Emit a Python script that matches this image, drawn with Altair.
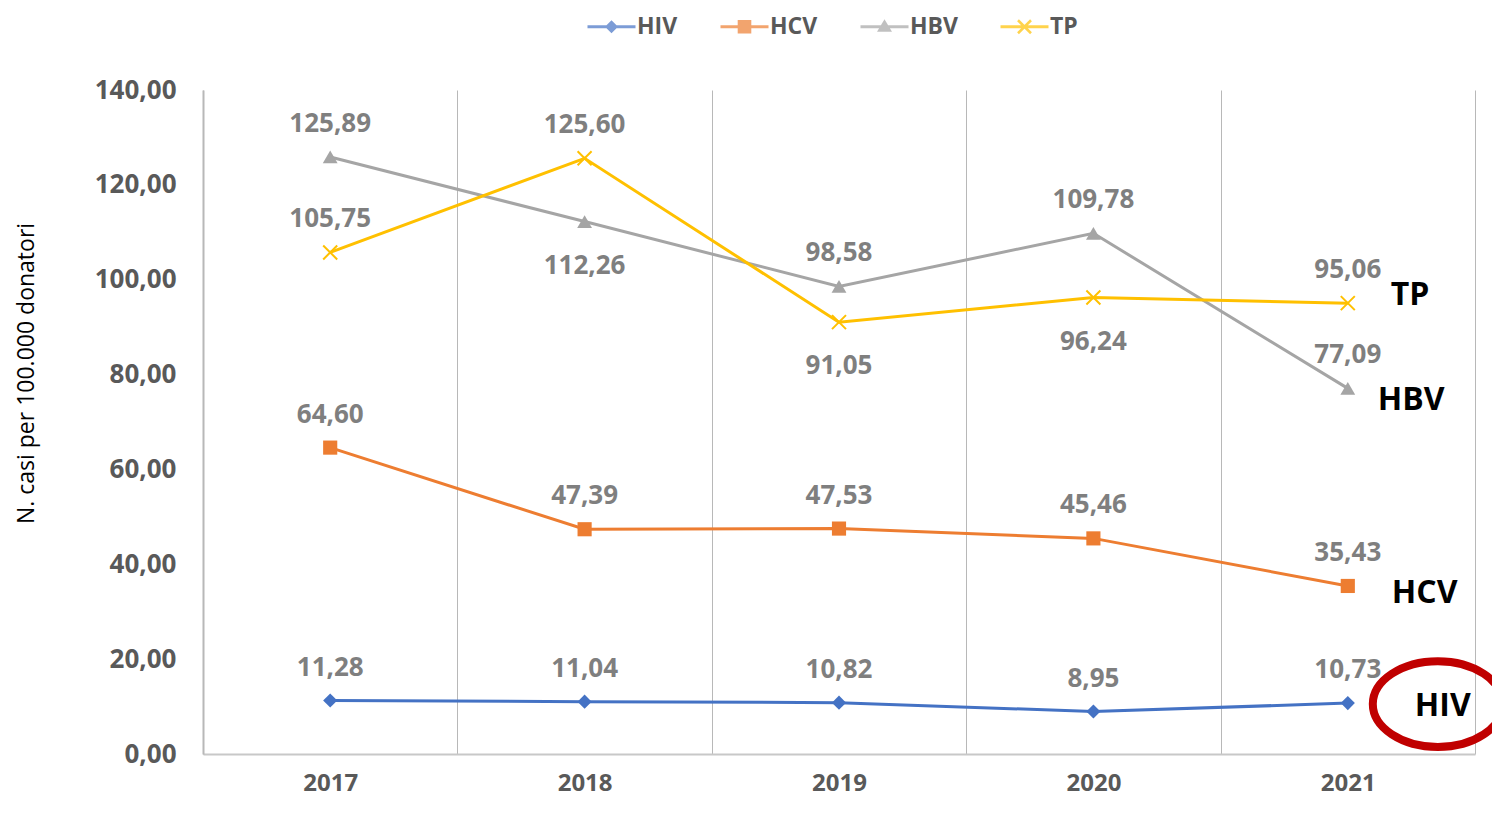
import altair as alt
import pandas as pd

# ---- data ----
years = ["2017", "2018", "2019", "2020", "2021"]
series = ["HIV", "HCV", "HBV", "TP"]
hiv = [11.28, 11.04, 10.82, 8.95, 10.73]
hcv = [64.60, 47.39, 47.53, 45.46, 35.43]
hbv = [125.89, 112.26, 98.58, 109.78, 77.09]
tp = [105.75, 125.60, 91.05, 96.24, 95.06]
y_ticks = [0, 20, 40, 60, 80, 100, 120, 140]
y_title = "N. casi per 100.000 donatori"
# labels placed under their point in the reference
labels_below = {("HBV", "2018"), ("TP", "2019"), ("TP", "2020")}

values = {"HIV": hiv, "HCV": hcv, "HBV": hbv, "TP": tp}
rows = []
for s in series:
    for yr, v in zip(years, values[s]):
        rows.append({"Serie": s, "Anno": yr, "Valore": v,
                     "Sotto": (s, yr) in labels_below})
df = pd.DataFrame(rows)

# ---- styles ----
FONT = "Open Sans"
colors = {"HIV": "#4472C4", "HCV": "#ED7D31", "HBV": "#A5A5A5", "TP": "#FFC000"}
marker = {
    "HIV": dict(shape="diamond", filled=True, size=200),
    "HCV": dict(shape="square", filled=True, size=200),
    "HBV": dict(shape="triangle-up", filled=True, size=220),
    "TP": dict(shape="M-1,-1L1,1M-1,1L1,-1", filled=False, size=196, strokeWidth=2),
}
# legend symbols: line with marker (unit = 10 px, symbol box 20 px)
LINE = "M-2.4,-0.15H2.4V0.15H-2.4Z"
legend_paths = [
    LINE + "M0,-0.65L0.65,0L0,0.65L-0.65,0Z",
    LINE + "M-0.68,-0.68H0.68V0.68H-0.68Z",
    LINE + "M0,-0.75L0.75,0.5L-0.75,0.5Z",
    LINE + "M-0.56,-0.74L0.74,0.56L0.56,0.74L-0.74,-0.56Z"
           "M-0.56,0.74L-0.74,0.56L0.56,-0.74L0.74,-0.56Z",
]
annot = {  # dx, dy of the bold series names right of 2021
    "TP": (43, -8), "HBV": (30, 12), "HCV": (44, 7), "HIV": (67, 3),
}
GRID = "#b8b8b8"

x_enc = alt.X(
    "Anno:O",
    bandPosition=0.5,
    scale=alt.Scale(type="band", domain=years, paddingInner=0, paddingOuter=0),
    axis=alt.Axis(title=None, labelAngle=0, tickBand="extent", grid=True,
                  gridColor=GRID, gridWidth=1, ticks=False, domainColor="#c8c8c8",
                  domainWidth=2, labelFont=FONT, labelFontSize=24,
                  labelFontWeight="bold", labelColor="#595959", labelPadding=17),
)
y_enc = alt.Y(
    "Valore:Q",
    scale=alt.Scale(domain=[0, 140], nice=False, zero=True),
    axis=alt.Axis(title=y_title, values=y_ticks,
                  labelExpr="replace(format(datum.value, '.2f'), '.', ',')",
                  grid=False, ticks=False, domainColor=GRID, domainWidth=2,
                  labelFont=FONT, labelFontSize=26, labelFontWeight="bold",
                  labelColor="#595959", labelPadding=27,
                  titleFont=FONT, titleFontSize=23, titleFontWeight="normal",
                  titleColor="black", titleX=-177, titleY=283,
                  titleAlign="center", titleBaseline="middle"),
)

base = alt.Chart().transform_calculate(
    Etichetta="replace(format(datum.Valore, '.2f'), '.', ',')"
)

layers = []
for s in series:
    layers.append(
        base.transform_filter(alt.datum.Serie == s)
        .mark_line(color=colors[s], strokeWidth=3)
        .encode(x=x_enc, y=y_enc)
    )
for s in series:
    m = marker[s]
    layers.append(
        base.transform_filter(alt.datum.Serie == s)
        .mark_point(color=colors[s], opacity=1, **m)
        .encode(x=x_enc, y=y_enc)
    )
# data labels
label_style = dict(font=FONT, fontSize=26, fontWeight="bold", color="#7f7f7f",
                   baseline="middle", align="center")
layers.append(
    base.transform_filter("!datum.Sotto")
    .mark_text(dy=-33, **label_style)
    .encode(x=x_enc, y=y_enc, text="Etichetta:N")
)
layers.append(
    base.transform_filter("datum.Sotto")
    .mark_text(dy=44, **label_style)
    .encode(x=x_enc, y=y_enc, text="Etichetta:N")
)
# bold series names right of the last year
for s in series:
    dx, dy = annot[s]
    layers.append(
        base.transform_filter((alt.datum.Serie == s) & (alt.datum.Anno == years[-1]))
        .mark_text(dx=dx, dy=dy, align="left", baseline="middle", font=FONT,
                   fontSize=32, fontWeight="bold", color="black")
        .encode(x=x_enc, y=y_enc, text="Serie:N")
    )
# red ellipse around HIV
layers.append(
    base.transform_filter((alt.datum.Serie == "HIV") & (alt.datum.Anno == years[-1]))
    .mark_point(shape="M-1,0A1,0.66,0,1,1,1,0A1,0.66,0,1,1,-1,0Z",
                size=16900, filled=False, stroke="#C00000", strokeWidth=8,
                opacity=1, xOffset=90, yOffset=1)
    .encode(x=x_enc, y=y_enc)
)
# legend carrier (no marks drawn)
leg = alt.Legend(title=None, orient="none", legendX=397, legendY=-75,
                 direction="horizontal", symbolSize=400, symbolStrokeWidth=0,
                 labelFont=FONT, labelFontSize=23, labelFontWeight="bold",
                 labelColor="#595959", labelOffset=14, columnPadding=42)
layers.append(
    alt.Chart().transform_filter("false")
    .mark_point(filled=True)
    .encode(
        color=alt.Color("Serie:N", scale=alt.Scale(domain=series,
                        range=[colors[s] for s in series]), legend=leg),
        shape=alt.Shape("Serie:N", scale=alt.Scale(domain=series,
                        range=legend_paths), legend=leg),
    )
)

chart = (
    alt.layer(*layers, data=df)
    .properties(width=1272, height=664,
                autosize=alt.AutoSizeParams(type="none"),
                padding={"left": 195, "top": 82, "right": 17, "bottom": 51})
    .configure_view(stroke=None)
)

chart.save("out.html", embed_options={"renderer": "svg", "actions": False})
